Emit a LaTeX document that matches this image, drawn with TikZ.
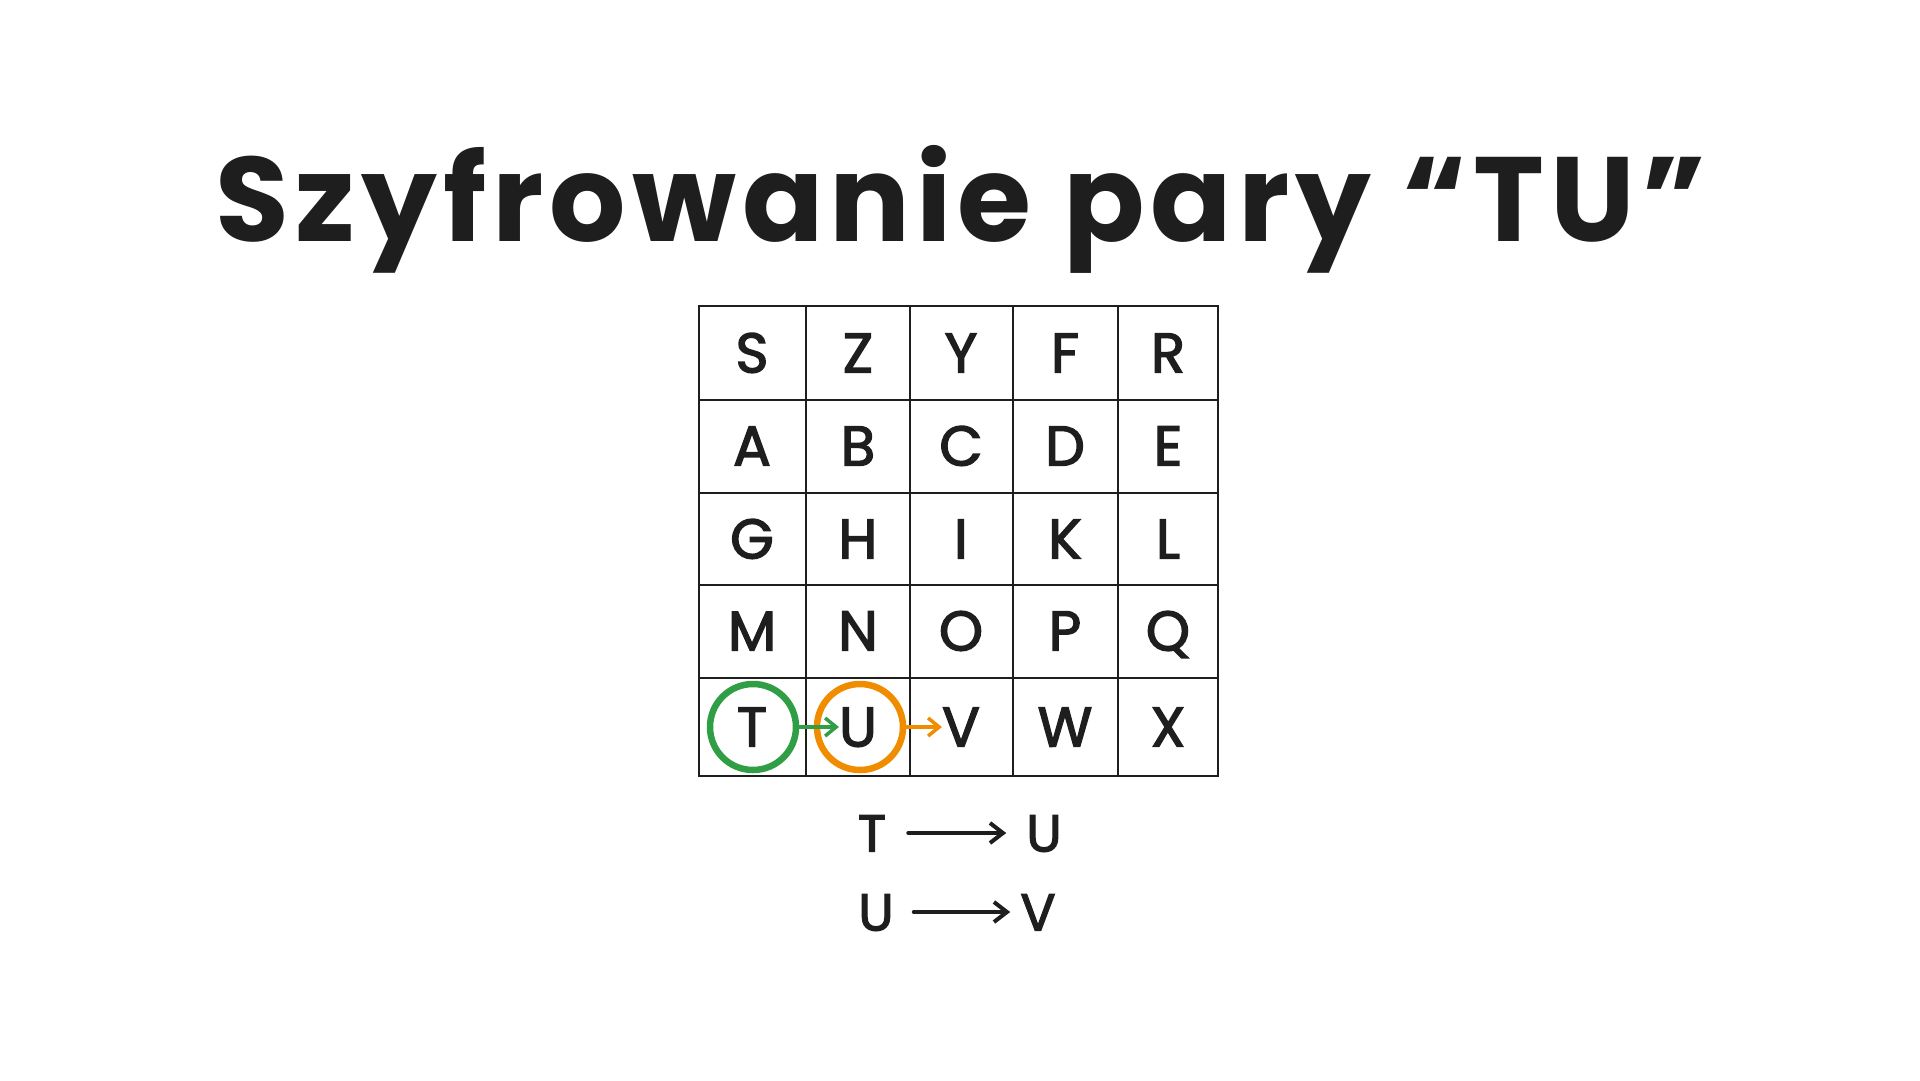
\documentclass[tikz,border=0pt]{standalone}
\usepackage{fontspec}
\setmainfont{Poppins}
\newfontfamily\lettfont[RawFeature={embolden=2.5}]{Poppins}
\newfontfamily\titlefont[LetterSpace=5]{Poppins}
\usetikzlibrary{arrows.meta,shapes.geometric}
\definecolor{ink}{HTML}{1E1E1E}
\definecolor{grn}{HTML}{2F9E44}
\definecolor{org}{HTML}{F08C00}
\begin{document}
\begin{tikzpicture}[x=1pt,y=-1pt,
  gridline/.style={draw=ink,line width=2pt},
  letter/.style={text=ink,font=\lettfont\fontsize{56}{56}\selectfont,inner sep=0pt,text height=39pt,text depth=0pt,anchor=center},
  small/.style={text=ink,font=\lettfont\fontsize{52}{52}\selectfont,inner sep=0pt,text height=37pt,text depth=0pt,anchor=center},
  ring/.style={circle,line width=6.5pt,minimum size=86pt,inner sep=0pt},
  cbarb/.style={-{Straight Barb[length=11pt,width=18pt,line width=3.5pt]},line width=3.5pt,line cap=round},
  barb/.style={-{Straight Barb[length=13pt,width=20pt,line width=4pt]},line width=4pt,line cap=round}
]
\useasboundingbox (0,0) rectangle (1920,1080);

% title
\node[text=ink,font=\titlefont\fontsize{120}{120}\selectfont\bfseries,anchor=base,inner sep=0pt] (title) at (961,241) {Szyfrowanie pary “TU”};

% grid
\draw[gridline] (699,306) rectangle (1218,776);
\foreach \x in {806,910,1013,1118} \draw[gridline] (\x,306) -- (\x,776);
\foreach \y in {400,493,585,678} \draw[gridline] (699,\y) -- (1218,\y);

% letters
\def\cx{{752,858,961,1065,1168}}
\foreach \r/\yy/\row in {1/353/{S,Z,Y,F,R},2/446/{A,B,C,D,E},3/539/{G,H,I,K,L},4/631/{M,N,O,P,Q},5/727/{T,U,V,W,X}}{
  \foreach \L [count=\c from 0] in \row {
    \pgfmathsetmacro\xx{\cx[\c]}
    \node[letter] (l\L) at (\xx,\yy) {\L};
  }
}

% circles
\node[ring,draw=grn] (ct) at (753,727) {};
\node[ring,draw=org] (cu) at (860,727) {};
\draw[cbarb,grn] (ct.east) -- (lU.west);
\draw[cbarb,org] (cu.east) -- (lV.west);

% bottom mapping
\node[small] (bt1) at (872,833) {T};
\node[small] (bu1) at (1044,833) {U};
\node[small] (bu2) at (876,912) {U};
\node[small] (bv2) at (1038,912) {V};
\draw[barb,ink,shorten <=22pt,shorten >=20pt] (bt1.east) -- (bu1.west);
\draw[barb,ink,shorten <=20pt,shorten >=10pt] (bu2.east) -- (bv2.west);
\end{tikzpicture}
\end{document}
